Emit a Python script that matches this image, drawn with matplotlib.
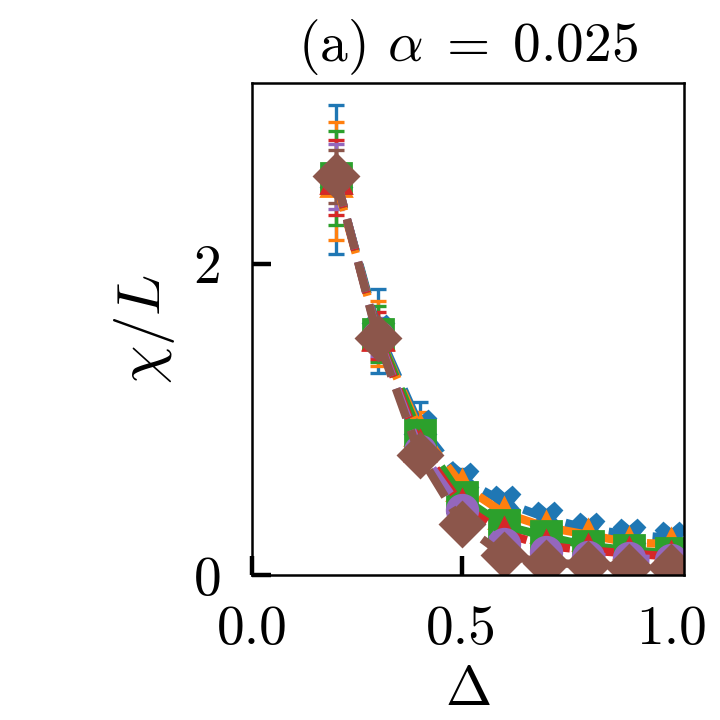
"""Recreate chi/L vs Delta panel (a)."""

import matplotlib as mpl
from matplotlib import pyplot as plt

mpl.use("Agg")

plt.rcParams["font.family"] = "serif"
plt.rcParams["font.serif"] = ["cmr10", "DejaVu Serif"]
plt.rcParams["mathtext.fontset"] = "cm"
plt.rcParams["axes.formatter.use_mathtext"] = True

# Data
delta = [0.2, 0.3, 0.4, 0.5, 0.6, 0.7, 0.8, 0.9, 1.0]
chi_blue = [2.54, 1.57, 0.96, 0.62, 0.47, 0.37, 0.30, 0.26, 0.24]
chi_orange = [2.53, 1.55, 0.93, 0.58, 0.40, 0.31, 0.26, 0.21, 0.20]
chi_green = [2.55, 1.55, 0.90, 0.50, 0.32, 0.25, 0.19, 0.16, 0.14]
chi_red = [2.55, 1.54, 0.83, 0.45, 0.27, 0.19, 0.16, 0.14, 0.12]
chi_purple = [2.56, 1.53, 0.80, 0.42, 0.20, 0.15, 0.12, 0.11, 0.10]
chi_brown = [2.56, 1.52, 0.77, 0.33, 0.13, 0.08, 0.07, 0.05, 0.05]

err_blue = [0.48, 0.27, 0.15, 0.06, 0.04, 0.03, 0.03, 0.02, 0.02]
err_orange = [0.38, 0.21, 0.12, 0.05, 0.03, 0.03, 0.02, 0.02, 0.02]
err_green = [0.30, 0.18, 0.10, 0.04, 0.03, 0.02, 0.02, 0.02, 0.02]
err_red = [0.24, 0.15, 0.08, 0.04, 0.02, 0.02, 0.02, 0.01, 0.01]
err_purple = [0.21, 0.12, 0.06, 0.03, 0.02, 0.02, 0.01, 0.01, 0.01]
err_brown = [0.17, 0.09, 0.05, 0.03, 0.02, 0.01, 0.01, 0.01, 0.01]

series = [
    (chi_blue, err_blue, "#1f77b4", "X"),
    (chi_orange, err_orange, "#ff7f0e", "^"),
    (chi_green, err_green, "#2ca02c", "s"),
    (chi_red, err_red, "#d62728", "^"),
    (chi_purple, err_purple, "#9467bd", "o"),
    (chi_brown, err_brown, "#8c564b", "D"),
]

xticks = [0.0, 0.5, 1.0]
xtick_labels = ["0.0", "0.5", "1.0"]
yticks = [0, 2]
ytick_labels = ["0", "2"]

fig = plt.figure(figsize=(3.6, 3.6))
ax = fig.add_axes([0.35, 0.201, 0.6, 0.684])

for vals, errs, color, marker in series:
    ax.errorbar(
        delta,
        vals,
        yerr=errs,
        color=color,
        marker=marker,
        markersize=11,
        linestyle="--",
        linewidth=3,
        elinewidth=1.2,
        capsize=3,
        capthick=1.2,
    )

ax.set_xlim(0, 1.03)
ax.set_ylim(0, 3.16)
ax.set_xticks(xticks, xtick_labels)
ax.set_yticks(yticks, ytick_labels)
ax.tick_params(direction="in", length=7, width=1.6, pad=11, labelsize=20)
for spine in ax.spines.values():
    spine.set_linewidth(0.9)

ax.set_xlabel(r"$\Delta$", fontsize=20, labelpad=4)
ax.set_ylabel(r"$\chi/L$", fontsize=22, labelpad=6)
ax.set_title(r"(a) $\alpha\;=\;0.025$", fontsize=20, pad=8)

fig.savefig("out.png", dpi=200)
plt.close(fig)
